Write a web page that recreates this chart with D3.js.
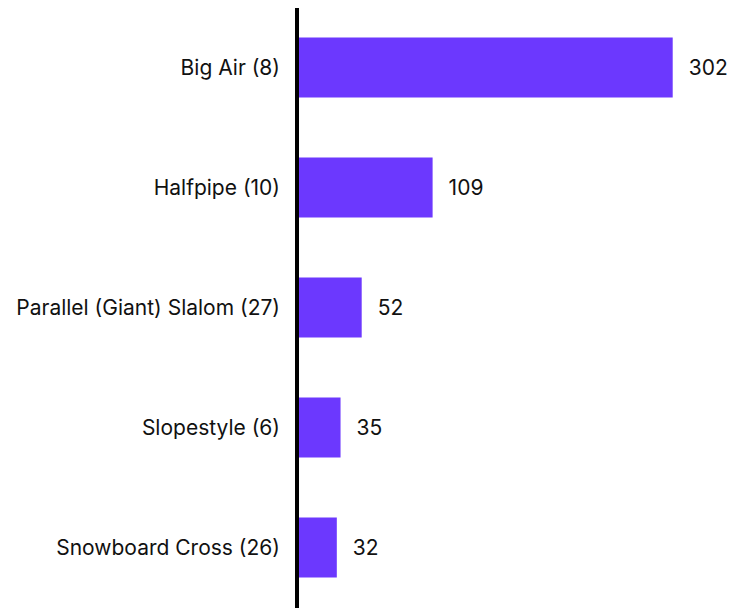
<!DOCTYPE html>
<html>
<head>
<meta charset="utf-8">
<script src="https://cdn.jsdelivr.net/npm/d3@7"></script>
<style>
  html, body { margin: 0; padding: 0; background: #fff; }
  svg { display: block; font-family: Inter, "Noto Sans", sans-serif; }
</style>
</head>
<body>
<div id="chart"></div>
<script>
// Snowboard disciplines (number of events) and their counts
const categories = [
  "Big Air (8)",
  "Halfpipe (10)",
  "Parallel (Giant) Slalom (27)",
  "Slopestyle (6)",
  "Snowboard Cross (26)"
];
const values = [302, 109, 52, 35, 32];

const width = 733, height = 608;
const axisX = 297;
const fontSize = 21;

const svg = d3.select("#chart").append("svg")
  .attr("width", width)
  .attr("height", height);

const x = d3.scaleLinear()
  .domain([0, d3.max(values)])
  .range([axisX, 672.7]);

const y = d3.scaleBand()
  .domain(categories)
  .range([7.5, 607.5])
  .paddingInner(0.5)
  .paddingOuter(0.25);

const data = categories.map((c, i) => ({ cat: c, val: values[i] }));

// Bars
svg.append("g")
  .selectAll("rect")
  .data(data)
  .join("rect")
  .attr("x", x(0))
  .attr("y", d => y(d.cat))
  .attr("width", d => x(d.val) - x(0))
  .attr("height", y.bandwidth())
  .attr("fill", "#6c38fe");

// Category labels
svg.append("g")
  .selectAll("text")
  .data(data)
  .join("text")
  .attr("x", axisX - 17)
  .attr("y", d => y(d.cat) + y.bandwidth() / 2)
  .attr("dy", "0.35em")
  .attr("text-anchor", "end")
  .attr("font-size", fontSize)
  .attr("fill", "#111")
  .text(d => d.cat);

// Value labels
svg.append("g")
  .selectAll("text")
  .data(data)
  .join("text")
  .attr("x", d => x(d.val) + 16)
  .attr("y", d => y(d.cat) + y.bandwidth() / 2)
  .attr("dy", "0.35em")
  .attr("font-size", fontSize)
  .attr("fill", "#111")
  .text(d => d.val);

// Vertical baseline
svg.append("line")
  .attr("x1", axisX).attr("x2", axisX)
  .attr("y1", 8).attr("y2", height)
  .attr("stroke", "#000")
  .attr("stroke-width", 4);
</script>
</body>
</html>
